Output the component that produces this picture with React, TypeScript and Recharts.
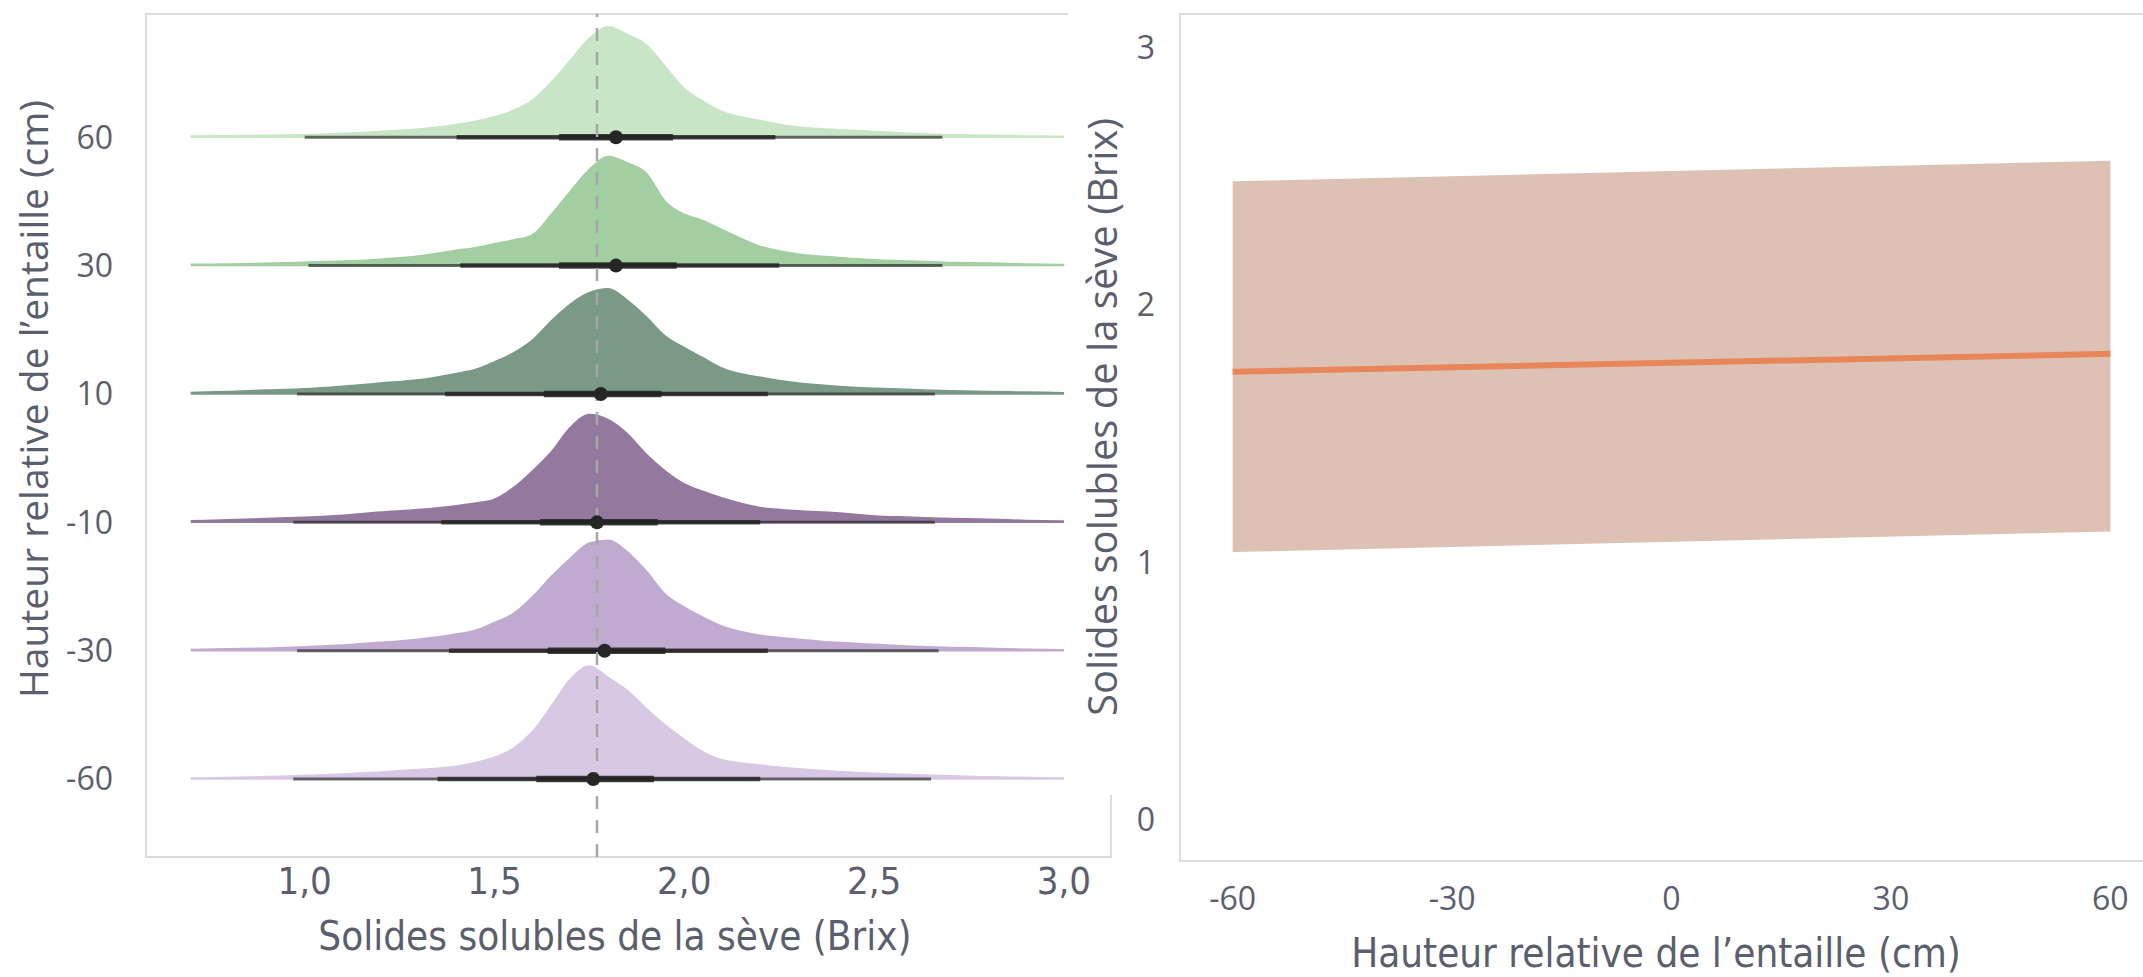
import React from 'react';
import {
  ComposedChart,
  Area,
  Line,
  XAxis,
  YAxis,
  ReferenceLine,
  ReferenceDot,
  ReferenceArea,
} from 'recharts';

// Brix grid for the density ridges
const brixGrid = [
  0.7, 0.8, 0.9, 1.0, 1.1, 1.2, 1.3, 1.4, 1.45, 1.5, 1.55, 1.6, 1.65, 1.7, 1.75, 1.8,
  1.85, 1.9, 1.95, 2.0, 2.05, 2.1, 2.2, 2.3, 2.4, 2.5, 2.6, 2.7, 2.8, 2.9, 3.0,
];

// rows from bottom to top
const heightLabels = ['-60', '-30', '-10', '10', '30', '60'];

// density heights (in row units)
const densM60 = [0.008, 0.012, 0.02, 0.028, 0.04, 0.055, 0.075, 0.1, 0.13, 0.17, 0.24, 0.37, 0.57, 0.78, 0.88, 0.79, 0.69, 0.55, 0.42, 0.31, 0.21, 0.15, 0.11, 0.08, 0.06, 0.045, 0.035, 0.025, 0.018, 0.012, 0.008];
const densM30 = [0.01, 0.015, 0.02, 0.03, 0.045, 0.065, 0.09, 0.13, 0.16, 0.22, 0.29, 0.42, 0.58, 0.72, 0.84, 0.86, 0.77, 0.62, 0.44, 0.34, 0.26, 0.19, 0.12, 0.09, 0.065, 0.05, 0.035, 0.025, 0.02, 0.012, 0.008];
const densM10 = [0.012, 0.02, 0.03, 0.04, 0.055, 0.08, 0.1, 0.13, 0.15, 0.18, 0.27, 0.4, 0.55, 0.74, 0.84, 0.8, 0.69, 0.53, 0.4, 0.3, 0.24, 0.19, 0.115, 0.09, 0.075, 0.05, 0.04, 0.03, 0.025, 0.015, 0.01];
const dens10 = [0.012, 0.02, 0.03, 0.04, 0.06, 0.085, 0.11, 0.16, 0.19, 0.25, 0.32, 0.42, 0.57, 0.7, 0.79, 0.82, 0.73, 0.6, 0.45, 0.36, 0.28, 0.2, 0.13, 0.085, 0.06, 0.045, 0.035, 0.025, 0.02, 0.015, 0.01];
const dens30 = [0.01, 0.012, 0.018, 0.027, 0.035, 0.05, 0.075, 0.12, 0.14, 0.17, 0.2, 0.24, 0.4, 0.58, 0.75, 0.85, 0.8, 0.72, 0.5, 0.4, 0.35, 0.28, 0.15, 0.09, 0.065, 0.045, 0.035, 0.025, 0.02, 0.012, 0.008];
const dens60 = [0.01, 0.012, 0.015, 0.02, 0.03, 0.045, 0.065, 0.1, 0.125, 0.16, 0.21, 0.29, 0.43, 0.6, 0.77, 0.86, 0.8, 0.72, 0.55, 0.38, 0.28, 0.2, 0.13, 0.08, 0.06, 0.045, 0.03, 0.02, 0.015, 0.01, 0.008];

// interval summaries per row (bottom to top)
const outerLo = [0.97, 0.98, 0.97, 0.98, 1.01, 1.0];
const outerHi = [2.65, 2.67, 2.66, 2.66, 2.68, 2.68];
const midLo = [1.35, 1.38, 1.36, 1.37, 1.41, 1.4];
const midHi = [2.2, 2.22, 2.2, 2.22, 2.25, 2.24];
const innerLo = [1.61, 1.64, 1.62, 1.63, 1.67, 1.67];
const innerHi = [1.92, 1.95, 1.93, 1.94, 1.98, 1.97];
const medians = [1.76, 1.79, 1.77, 1.78, 1.82, 1.82];
const overallMean = 1.77;

const brixTicks = [1.0, 1.5, 2.0, 2.5, 3.0];

// right panel: fitted regression
const fitHeight = [-60, 60];
const fitMean = [1.74, 1.81];
const fitLower = [1.04, 1.12];
const fitUpper = [2.48, 2.56];
const heightTicks = [-60, -30, 0, 30, 60];
const brixAxisTicks = [0, 1, 2, 3];

const ridgeSeries = [densM60, densM30, densM10, dens10, dens30, dens60];
const ridgeColors = ['#d9c8e3', '#c0aad0', '#94799e', '#7a9a85', '#a2cea1', '#c8e6c6'];

const ridgeData = brixGrid.map((x, i) => {
  const row: Record<string, any> = { x };
  ridgeSeries.forEach((s, k) => {
    row['r' + k] = [k, k + s[i]];
  });
  return row;
});

const fitData = fitHeight.map((h, i) => ({
  h,
  band: [fitLower[i], fitUpper[i]],
  fit: fitMean[i],
}));

const textColor = '#5a5e6d';
const regularFont = "'Open Sans', 'Noto Sans', sans-serif";
const narrowFont = "'Liberation Sans Narrow', 'DejaVu Sans Condensed', 'Roboto', sans-serif";
const borderColor = '#dcdcdc';

const LX = [0.582, 3.124];
const LY = [-0.607, 5.96];
const RX = [-67.2, 67.2];
const RY = [-0.16, 3.13];

const fmtComma = (v: number) => v.toFixed(1).replace('.', ',');

function Title({ x, y, text, rotate, font, size }: any) {
  return (
    <div
      style={{
        position: 'absolute',
        left: x,
        top: y,
        transform: `translate(-50%, -50%)${rotate ? ' rotate(-90deg)' : ''}`,
        whiteSpace: 'nowrap',
        fontFamily: font,
        fontSize: size,
        color: textColor,
        lineHeight: 1,
      }}
    >
      {text}
    </div>
  );
}

export default function App() {
  return (
    <div
      style={{
        position: 'absolute',
        left: 0,
        top: 0,
        width: 2143,
        height: 977,
        overflow: 'hidden',
        background: '#fff',
      }}
    >
      <div style={{ position: 'absolute', left: 0, top: 0 }}>
        <ComposedChart
          width={1120}
          height={977}
          data={ridgeData}
          margin={{ top: 14, right: 9, bottom: 60, left: 46 }}
        >
          <XAxis
            dataKey="x"
            type="number"
            domain={LX}
            ticks={brixTicks}
            tickFormatter={fmtComma}
            axisLine={false}
            tickLine={false}
            tickSize={0}
            tickMargin={10}
            height={60}
            tick={{ fill: textColor, fontSize: 38, fontFamily: narrowFont }}
          />
          <YAxis
            type="number"
            domain={LY}
            ticks={[0, 1, 2, 3, 4, 5]}
            tickFormatter={(v: number) => heightLabels[v]}
            axisLine={false}
            tickLine={false}
            tickSize={0}
            tickMargin={33}
            width={100}
            tick={{ fill: textColor, fontSize: 32, fontFamily: regularFont }}
          />
          <ReferenceArea
            x1={LX[0]}
            x2={LX[1]}
            y1={LY[0]}
            y2={LY[1]}
            fill="none"
            stroke={borderColor}
            strokeWidth={2}
          />
          {ridgeSeries.map((_, k) => (
            <Area
              key={'r' + k}
              dataKey={'r' + k}
              type="monotone"
              fill={ridgeColors[k]}
              fillOpacity={1}
              stroke={ridgeColors[k]}
              strokeWidth={1.5}
              isAnimationActive={false}
            />
          ))}
          {heightLabels.map((_, k) => (
            <ReferenceLine
              key={'o' + k}
              segment={[{ x: outerLo[k], y: k }, { x: outerHi[k], y: k }]}
              stroke="#222"
              strokeOpacity={0.65}
              strokeWidth={3}
            />
          ))}
          {heightLabels.map((_, k) => (
            <ReferenceLine
              key={'m' + k}
              segment={[{ x: midLo[k], y: k }, { x: midHi[k], y: k }]}
              stroke="#222"
              strokeOpacity={0.8}
              strokeWidth={4.5}
            />
          ))}
          {heightLabels.map((_, k) => (
            <ReferenceLine
              key={'i' + k}
              segment={[{ x: innerLo[k], y: k }, { x: innerHi[k], y: k }]}
              stroke="#222"
              strokeOpacity={0.85}
              strokeWidth={6.5}
            />
          ))}
          {heightLabels.map((_, k) => (
            <ReferenceDot key={'d' + k} x={medians[k]} y={k} r={7} fill="#262626" stroke="none" />
          ))}
          <ReferenceLine
            x={overallMean}
            stroke="#a6a6a6"
            strokeWidth={2.5}
            strokeDasharray="13 11"
          />
        </ComposedChart>
      </div>

      {/* right panel sits on top of the left panel's upper-right corner */}
      <div
        style={{
          position: 'absolute',
          left: 1068,
          top: 0,
          width: 1075,
          height: 795,
          background: '#fff',
        }}
      />

      <div style={{ position: 'absolute', left: 1068, top: 0 }}>
        <ComposedChart
          width={1100}
          height={977}
          data={fitData}
          margin={{ top: 14, right: 5, bottom: 56, left: 32 }}
        >
          <XAxis
            dataKey="h"
            type="number"
            domain={RX}
            ticks={heightTicks}
            axisLine={false}
            tickLine={false}
            tickSize={0}
            tickMargin={26}
            height={60}
            tick={{ fill: textColor, fontSize: 32, fontFamily: regularFont }}
          />
          <YAxis
            type="number"
            domain={RY}
            ticks={brixAxisTicks}
            axisLine={false}
            tickLine={false}
            tickSize={0}
            tickMargin={25}
            width={80}
            tick={{ fill: textColor, fontSize: 32, fontFamily: regularFont }}
          />
          <ReferenceArea
            x1={RX[0]}
            x2={RX[1]}
            y1={RY[0]}
            y2={RY[1]}
            fill="none"
            stroke={borderColor}
            strokeWidth={2}
          />
          <Area
            dataKey="band"
            type="linear"
            fill="#ddc1b5"
            fillOpacity={1}
            stroke="none"
            isAnimationActive={false}
          />
          <Line
            dataKey="fit"
            type="linear"
            stroke="#e8865a"
            strokeWidth={6}
            dot={false}
            isAnimationActive={false}
          />
        </ComposedChart>
      </div>

      <Title x={32} y={399} text="Hauteur relative de l’entaille (cm)" rotate font={regularFont} size={39} />
      <Title x={615} y={936} text="Solides solubles de la sève (Brix)" font={narrowFont} size={40} />
      <Title x={1102} y={417} text="Solides solubles de la sève (Brix)" rotate font={regularFont} size={40} />
      <Title x={1656} y={953} text="Hauteur relative de l’entaille (cm)" font={narrowFont} size={40} />
    </div>
  );
}
